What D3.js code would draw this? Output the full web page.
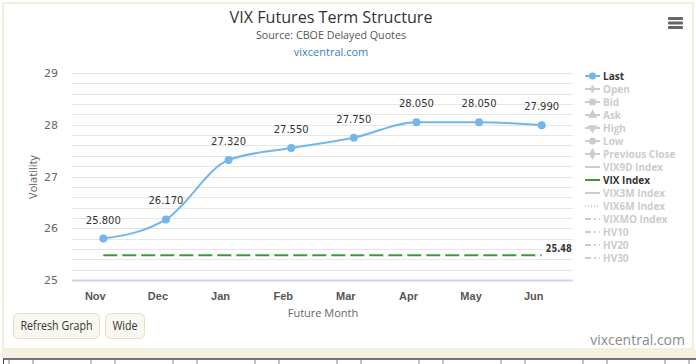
<!DOCTYPE html>
<html>
<head>
<meta charset="utf-8">
<script src="https://cdn.jsdelivr.net/npm/d3@7/dist/d3.min.js"></script>
<style>
  body { margin: 0; background: #fff; }
  svg { display: block; }
</style>
</head>
<body>
<div id="chart-area"></div>
<script>
// chart values
var months = ["Nov", "Dec", "Jan", "Feb", "Mar", "Apr", "May", "Jun"];
var lastValues = [25.8, 26.17, 27.32, 27.55, 27.75, 28.05, 28.05, 27.99];
var vixIndex = 25.48;
var yTicks = [25, 26, 27, 28, 29];
var legendNames = ["Last", "Open", "Bid", "Ask", "High", "Low", "Previous Close",
  "VIX9D Index", "VIX Index", "VIX3M Index", "VIX6M Index", "VIXMO Index", "HV10", "HV20", "HV30"];
var legendShown = ["Last", "VIX Index"];

var W = 696, H = 364;
var margin = {top: 73, left: 72, right: 123, bottom: 84};
var plotW = W - margin.left - margin.right;
var plotH = H - margin.top - margin.bottom;

var svg = d3.select("#chart-area").append("svg")
  .attr("width", W)
  .attr("height", H)
  .style("font-family", "'Open Sans', sans-serif");

// page frame
svg.append("rect").attr("x", 3).attr("y", 3).attr("width", 690).attr("height", 346)
  .attr("fill", "#fff").attr("stroke", "#f3efdd").attr("stroke-width", 2);
svg.append("rect").attr("x", 2).attr("y", 350).attr("width", 694).attr("height", 8)
  .attr("fill", "#f4f1e3");
svg.append("line").attr("x1", 3).attr("x2", 696).attr("y1", 359).attr("y2", 359)
  .attr("stroke", "#444").attr("stroke-width", 1.5);
var cellStarts = d3.range(9, 696, 82);
cellStarts.forEach(function(cx) {
  [cx, cx + 24].forEach(function(lx) {
    svg.append("line").attr("x1", lx).attr("x2", lx).attr("y1", 359).attr("y2", 364)
      .attr("stroke", "#888").attr("stroke-width", 1);
  });
});
svg.append("line").attr("x1", 3.5).attr("x2", 3.5).attr("y1", 359).attr("y2", 364)
  .attr("stroke", "#444");

// titles
svg.append("text").attr("x", 331).attr("y", 23).attr("text-anchor", "middle")
  .attr("font-size", "16px").attr("fill", "#333")
  .attr("textLength", 203).attr("lengthAdjust", "spacingAndGlyphs")
  .text("VIX Futures Term Structure");
svg.append("text").attr("x", 331).attr("y", 39).attr("text-anchor", "middle")
  .attr("font-size", "10.5px").attr("fill", "#555")
  .attr("textLength", 150).attr("lengthAdjust", "spacingAndGlyphs")
  .text("Source: CBOE Delayed Quotes");
svg.append("text").attr("x", 331).attr("y", 56).attr("text-anchor", "middle")
  .attr("font-size", "11px").attr("fill", "#3b7bbf")
  .text("vixcentral.com");

// hamburger
[17, 21.5, 26].forEach(function(hy) {
  svg.append("rect").attr("x", 668).attr("y", hy).attr("width", 15).attr("height", 3)
    .attr("rx", 1).attr("fill", "#666");
});

var g = svg.append("g")
  .attr("transform", "translate(" + margin.left + "," + margin.top + ")");

var x = d3.scaleBand().domain(months).range([0, plotW]);
var y = d3.scaleLinear().domain([25, 29]).range([plotH, 0]);
var cx = function(m) { return x(m) + x.bandwidth() / 2; };

// grid lines every 0.2
var gridVals = d3.range(0, 21).map(function(i) { return 25 + i * 0.2; });
g.selectAll(".grid").data(gridVals).enter().append("line")
  .attr("x1", 0).attr("x2", plotW)
  .attr("y1", function(d) { return Math.round(y(d)) + 0.5; })
  .attr("y2", function(d) { return Math.round(y(d)) + 0.5; })
  .attr("stroke", function(d, i) { return i === 0 ? "#ccd6eb" : "#e6e6e6"; })
  .attr("stroke-width", function(d, i) { return i === 0 ? 2 : 1; });

// y axis
var leftAxis = d3.axisLeft(y).tickValues(yTicks).tickFormat(d3.format("d"))
  .tickSize(0).tickPadding(14);
g.append("g").attr("class", "left axis").call(leftAxis)
  .call(function(a) { a.select(".domain").remove(); })
  .selectAll("text").attr("font-size", "11px").attr("fill", "#666")
  .attr("font-family", "'DejaVu Sans', sans-serif");

g.append("text")
  .attr("transform", "rotate(-90)")
  .attr("x", -104)
  .attr("y", -35)
  .attr("text-anchor", "middle")
  .attr("font-size", "11px").attr("fill", "#666")
  .text("Volatility");

// x axis
var bottomAxis = d3.axisBottom(x).tickSize(0).tickPadding(12);
g.append("g").attr("class", "bottom axis")
  .attr("transform", "translate(-8," + plotH + ")")
  .call(bottomAxis)
  .call(function(a) { a.select(".domain").remove(); })
  .selectAll("text").attr("font-size", "11px").attr("fill", "#555")
  .attr("font-weight", 600);

g.append("text")
  .attr("x", 323 - margin.left).attr("y", 317 - margin.top)
  .attr("text-anchor", "middle")
  .attr("font-size", "11px").attr("fill", "#666")
  .text("Future Month");

// VIX index dashed line
g.append("line")
  .attr("x1", cx(months[0])).attr("x2", cx(months[months.length - 1]))
  .attr("y1", y(vixIndex)).attr("y2", y(vixIndex))
  .attr("stroke", "#3a9a3a").attr("stroke-width", 2)
  .attr("stroke-dasharray", "14,5");
g.append("text")
  .attr("x", cx(months[months.length - 1]) + 4).attr("y", y(vixIndex) - 3)
  .attr("font-size", "11px").attr("font-weight", "bold").attr("fill", "#333")
  .attr("font-family", "'DejaVu Sans', sans-serif")
  .attr("textLength", 26).attr("lengthAdjust", "spacingAndGlyphs")
  .text(vixIndex.toFixed(2));

// Last series
var pts = months.map(function(m, i) { return {m: m, v: lastValues[i]}; });
var line = d3.line()
  .x(function(d) { return cx(d.m); })
  .y(function(d) { return y(d.v); })
  .curve(d3.curveMonotoneX);
g.append("path").datum(pts)
  .attr("d", line)
  .attr("fill", "none")
  .attr("stroke", "#72b6ec")
  .attr("stroke-width", 2);
g.selectAll(".pt").data(pts).enter().append("circle")
  .attr("cx", function(d) { return cx(d.m); })
  .attr("cy", function(d) { return y(d.v); })
  .attr("r", 4)
  .attr("fill", "#72b6ec");
g.selectAll(".lbl").data(pts).enter().append("text")
  .attr("x", function(d) { return cx(d.m); })
  .attr("y", function(d) { return y(d.v) - 15; })
  .attr("text-anchor", "middle")
  .attr("font-size", "10px")
  .attr("font-family", "'DejaVu Sans', sans-serif")
  .attr("fill", "#333")
  .text(function(d) { return d.v.toFixed(3); });

// legend
var lg = svg.append("g").attr("transform", "translate(585,0)");
var legY = d3.scalePoint().domain(legendNames).range([76, 258]);
var grey = "#cccccc";
legendNames.forEach(function(name, i) {
  var on = legendShown.indexOf(name) >= 0;
  var col = name === "Last" ? "#72b6ec" : (name === "VIX Index" ? "#3a9a3a" : grey);
  var ly = legY(name);
  var item = lg.append("g").attr("transform", "translate(0," + ly + ")");
  var dash = null;
  if (name === "VIX6M Index") dash = "1,2";
  if (name === "VIXMO Index" || name.indexOf("HV") === 0) dash = "6,3,2,3";
  item.append("line").attr("x1", 0).attr("x2", 15).attr("y1", 0).attr("y2", 0)
    .attr("stroke", col).attr("stroke-width", 2).attr("stroke-dasharray", dash);
  var sym = {Last: d3.symbolCircle, Open: d3.symbolCross, Bid: d3.symbolSquare,
    Ask: d3.symbolTriangle, High: d3.symbolTriangle, Low: d3.symbolCircle,
    "Previous Close": d3.symbolDiamond}[name];
  if (sym) {
    item.append("path").attr("d", d3.symbol().type(sym).size(name === "Open" ? 28 : 40))
      .attr("transform", "translate(7.5,0)" + (name === "High" ? " rotate(180)" : ""))
      .attr("fill", col);
  }
  item.append("text").attr("x", 18).attr("y", 3.5)
    .attr("font-size", "10px").attr("font-weight", "bold")
    .attr("fill", on ? "#333" : grey)
    .text(name);
});

// buttons
var buttons = [{t: "Refresh Graph", x: 13, w: 86, tl: 72}, {t: "Wide", x: 105, w: 39, tl: 25}];
buttons.forEach(function(b) {
  svg.append("rect").attr("x", b.x + 0.5).attr("y", 313.5).attr("width", b.w).attr("height", 25)
    .attr("rx", 5).attr("fill", "#f8f7f0").attr("stroke", "#e6dfc6");
  svg.append("text").attr("x", b.x + b.w / 2 + 0.5).attr("y", 330).attr("text-anchor", "middle")
    .attr("font-size", "12px").attr("fill", "#333")
    .attr("textLength", b.tl).attr("lengthAdjust", "spacingAndGlyphs")
    .text(b.t);
});

// watermark
svg.append("text").attr("x", 685).attr("y", 345).attr("text-anchor", "end")
  .attr("font-size", "14px").attr("fill", "#8a8a8a")
  .text("vixcentral.com");
</script>
</body>
</html>
